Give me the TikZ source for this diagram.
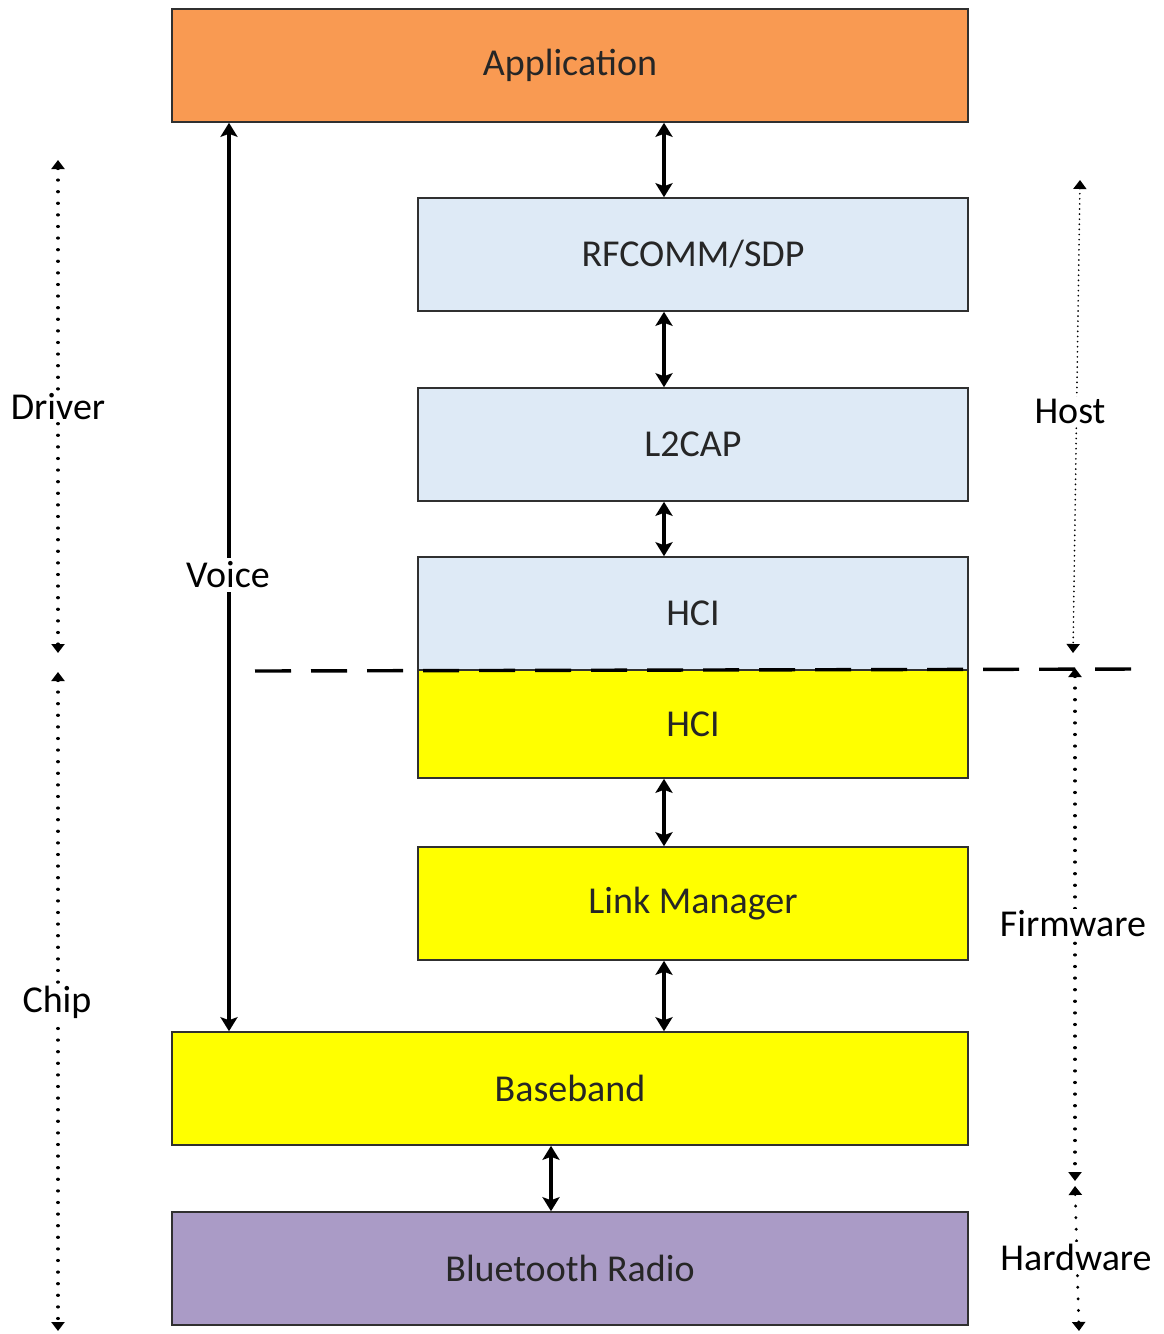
\documentclass[tikz,border=0pt]{standalone}
\usepackage{fontspec}
\setmainfont{Carlito}
\usetikzlibrary{arrows.meta}
\definecolor{apporange}{HTML}{F99A52}
\definecolor{hostblue}{HTML}{DEEAF6}
\definecolor{chipyellow}{HTML}{FFFF00}
\definecolor{radiopurple}{HTML}{AA9BC6}
\definecolor{edge}{HTML}{303030}
\begin{document}
\begin{tikzpicture}[x=1pt,y=-1pt,
  layer/.style={draw=edge,line width=1.6pt,minimum height=113pt,inner sep=0pt,font=\fontsize{38}{42}\selectfont,text=black!85},
  lbl/.style={font=\fontsize{38}{42}\selectfont,text=black,inner sep=2pt},
  link/.style={line width=3.2pt,{Stealth[length=14pt,width=17pt,inset=3pt]}-{Stealth[length=14pt,width=17pt,inset=3pt]}},
  span/.style={line width=3.2pt,dash pattern=on 0.1pt off 11.5pt,line cap=round,{Triangle[length=9pt,width=13pt,line cap=butt]}-{Triangle[length=9pt,width=13pt,line cap=butt]}}
]
\useasboundingbox (0,0) rectangle (1163,1334);
\fill[white] (0,0) rectangle (1163,1334);

\node[layer,fill=apporange,minimum width=796pt] (app) at (570,65.5) {Application};
\node[layer,fill=hostblue,minimum width=550pt] (rfc) at (693,254.5) {RFCOMM/SDP};
\node[layer,fill=hostblue,minimum width=550pt] (l2c) at (693,444.5) {L2CAP};
\node[layer,fill=hostblue,minimum width=550pt] (hcih) at (693,613.5) {HCI};
\node[layer,fill=chipyellow,minimum width=550pt,minimum height=108pt] (hcic) at (693,724) {HCI};
\node[layer,fill=chipyellow,minimum width=550pt] (lm) at (693,903.5) {Link Manager};
\node[layer,fill=chipyellow,minimum width=796pt] (bb) at (570,1088.5) {Baseband};
\node[layer,fill=radiopurple,minimum width=796pt] (radio) at (570,1268.5) {Bluetooth Radio};

% vertical connections
\draw[link] (app.south -| 664,0) -- (rfc.north -| 664,0);
\draw[link] (rfc.south -| 664,0) -- (l2c.north -| 664,0);
\draw[link] (l2c.south -| 664,0) -- (hcih.north -| 664,0);
\draw[link] (hcic.south -| 664,0) -- (lm.north -| 664,0);
\draw[link] (lm.south -| 664,0) -- (bb.north -| 664,0);
\draw[link] (bb.south -| 551,0) -- (radio.north -| 551,0);

% voice path
\draw[link] (app.south -| 229,0) -- (bb.north -| 229,0);
\node[lbl,fill=white,inner sep=4pt] (voice) at (228,575) {Voice};

% host / chip boundary
\coordinate (dl) at (255,671);
\coordinate (dr) at (1142,669);
\draw[line width=3.4pt,dash pattern=on 36pt off 20pt] (dl) -- (dr);

% left spans
\coordinate (drvT) at (58,160);
\coordinate (drvB) at (58,653);
\coordinate (chpT) at (58,672);
\coordinate (chpB) at (58,1331);
\draw[span] (drvT) -- (drvB);
\draw[span] (chpT) -- (chpB);
\node[lbl,fill=white] (driver) at (58,407) {Driver};
\node[lbl,fill=white] (chip) at (57,1002) {Chip};

% right spans
\coordinate (hstT) at (1080,180);
\coordinate (hstB) at (1073,653);
\coordinate (fwT) at (1075,668);
\coordinate (fwB) at (1075,1181);
\coordinate (hwT) at (1075,1186);
\coordinate (hwB) at (1079,1331);
\draw[span,line width=1.8pt,dash pattern=on 0.1pt off 5pt] (hstT) -- (hstB);
\draw[span] (fwT) -- (fwB);
\draw[span] (hwT) -- (hwB);
\node[lbl,fill=white] (host) at (1070,411) {Host};
\node[lbl,fill=white] (fw) at (1073,924) {Firmware};
\node[lbl,fill=white] (hw) at (1076,1257) {Hardware};
\end{tikzpicture}
\end{document}
